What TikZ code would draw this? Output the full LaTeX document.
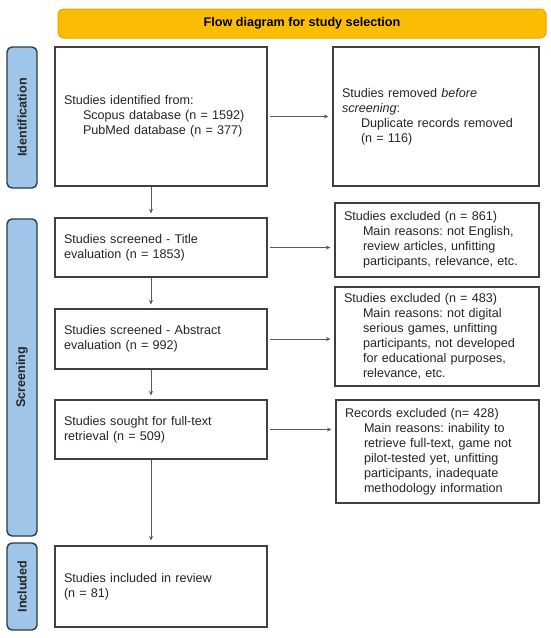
\documentclass[tikz,border=0pt]{standalone}
\usepackage{fontspec}
\setmainfont{Liberation Sans}
\usetikzlibrary{arrows.meta}
\definecolor{bannerfill}{HTML}{FBBC04}
\definecolor{bannerdraw}{HTML}{E3A400}
\definecolor{sidefill}{HTML}{9FC5E8}
\definecolor{sidedraw}{HTML}{2B3A48}
\definecolor{boxdraw}{HTML}{404040}
\definecolor{txt}{HTML}{262626}
\newcommand{\ind}{\hspace*{19pt}}
\frenchspacing
\begin{document}
\begin{tikzpicture}[x=1pt,y=-1pt,
 every node/.style={font=\fontsize{12.6}{15}\selectfont, text=txt},
 box/.style={draw=boxdraw, line width=1.1pt, align=left, inner xsep=9pt, inner ysep=0pt, fill=white},
 lbox/.style={box, minimum width=212pt, text width=194pt},
 rbox/.style={box, minimum width=204pt, text width=186pt},
 side/.style={draw=sidedraw, fill=sidefill, line width=1.4pt, rounded corners=5pt, minimum height=30pt, inner sep=0pt, rotate=90, font=\bfseries\fontsize{12.6}{15}\selectfont, text=black!85},
 arr/.style={draw=black!65, line width=0.8pt, -{Stealth[length=4.5pt,width=4pt]}},
]
\useasboundingbox (0,0) rectangle (550,638);
% banner
\node[draw=bannerdraw, fill=bannerfill, rounded corners=6pt, line width=1pt, minimum width=488pt, minimum height=29pt, font=\bfseries\fontsize{12.6}{15}\selectfont, text=black] (title) at (302,23.5) {Flow diagram for study selection};
% side labels
\node[side, minimum width=141pt] (s1) at (22,117.5) {Identification};
\node[side, minimum width=317pt] (s2) at (22,377.5) {Screening};
\node[side, minimum width=87pt] (s3) at (22,586.5) {Included};
% left boxes
\node[lbox, minimum height=139pt] (b1) at (161,116.5) {Studies identified from:\\\ind Scopus database (n = 1592)\\\ind PubMed database (n = 377)};
\node[lbox, minimum height=59pt] (b2) at (161,247.5) {Studies screened - Title\\evaluation (n = 1853)};
\node[lbox, minimum height=60pt] (b3) at (161,339) {Studies screened - Abstract\\evaluation (n = 992)};
\node[lbox, minimum height=59pt] (b4) at (161,429.5) {Studies sought for full-text\\retrieval (n = 509)};
\node[lbox, minimum height=81pt] (b5) at (161,586.5) {Studies included in review\\(n = 81)};
% right boxes
\node[rbox, minimum width=206pt, text width=188pt, minimum height=139pt] (r1) at (436,116.5) {Studies removed \textit{before}\\\textit{screening}:\\\ind Duplicate records removed\\\ind (n = 116)};
\node[rbox, minimum height=74pt] (e1) at (437,240) {Studies excluded (n = 861)\\\ind Main reasons: not English,\\\ind review articles, unfitting\\\ind participants, relevance, etc.};
\node[rbox, minimum height=99pt] (e2) at (437,336.5) {Studies excluded (n = 483)\\\ind Main reasons: not digital\\\ind serious games, unfitting\\\ind participants, not developed\\\ind for educational purposes,\\\ind relevance, etc.};
\node[rbox, minimum width=203pt, text width=185pt, minimum height=103pt] (e3) at (437.5,451.5) {Records excluded (n= 428)\\\ind Main reasons: inability to\\\ind retrieve full-text, game not\\\ind pilot-tested yet, unfitting\\\ind participants, inadequate\\\ind methodology information};
% connectors
\coordinate (vx) at (151,0);
\draw[arr, shorten >=4pt] (b1.south -| vx) -- (b2.north -| vx);
\draw[arr, shorten >=4pt] (b2.south -| vx) -- (b3.north -| vx);
\draw[arr, shorten >=4pt] (b3.south -| vx) -- (b4.north -| vx);
\draw[arr, shorten >=5pt] (b4.south -| vx) -- (b5.north -| vx);
\draw[arr, shorten <=2.5pt, shorten >=4pt] (b1.east) -- (r1.west |- b1.east);
\draw[arr, shorten <=2.5pt, shorten >=4pt] (b2.east) -- (e1.west |- b2.east);
\draw[arr, shorten <=2.5pt, shorten >=4pt] (b3.east) -- (e2.west |- b3.east);
\draw[arr, shorten <=2.5pt, shorten >=4pt] (b4.east) -- (e3.west |- b4.east);
\end{tikzpicture}
\end{document}
